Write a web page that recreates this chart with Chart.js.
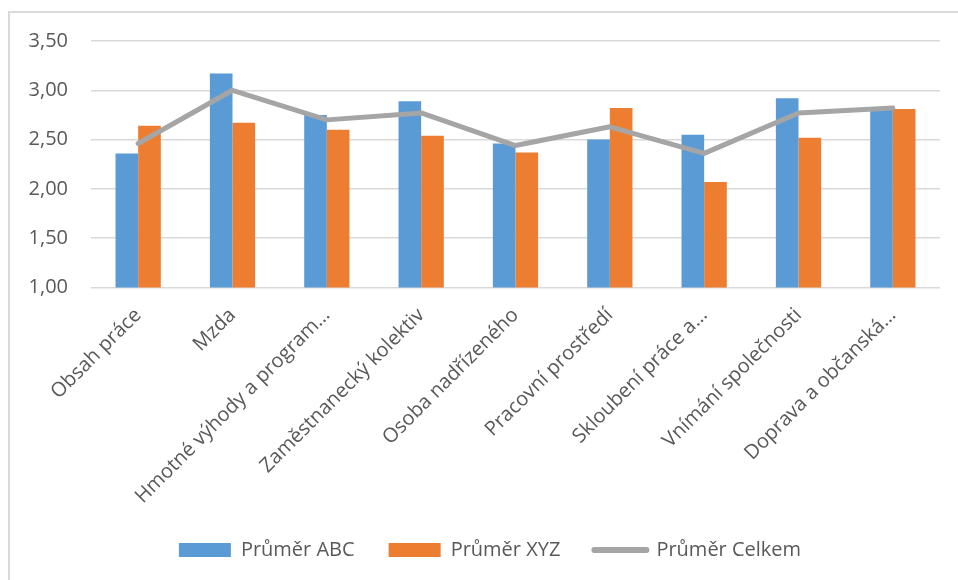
<!DOCTYPE html>
<html lang="cs">
<head>
<meta charset="utf-8">
<title>Průměr ABC, XYZ a Celkem</title>
<script src="https://cdn.jsdelivr.net/npm/chart.js@4.4.1/dist/chart.umd.min.js"></script>
<style>
  html, body { margin: 0; padding: 0; background: #ffffff; }
  #wrap { position: relative; width: 958px; height: 580px; overflow: hidden; }
  #frame {
    position: absolute; left: 8px; top: 11px; width: 980px; height: 600px;
    border-top: 2px solid #d9d9d9; border-left: 2px solid #d9d9d9;
  }
  #chart { position: absolute; left: 0; top: 0; }
</style>
</head>
<body>
<div id="wrap">
  <div id="frame"></div>
  <canvas id="chart" width="958" height="580"></canvas>
</div>
<script>
// Categories (long names are shortened with an ellipsis on the axis)
const categories = [
  'Obsah práce',
  'Mzda',
  'Hmotné výhody a program…',
  'Zaměstnanecký kolektiv',
  'Osoba nadřízeného',
  'Pracovní prostředí',
  'Skloubení práce a…',
  'Vnímání společnosti',
  'Doprava a občanská…'
];

// Average scores per category
const prumerABC    = [2.36, 3.17, 2.75, 2.89, 2.46, 2.50, 2.55, 2.92, 2.81];
const prumerXYZ    = [2.64, 2.67, 2.60, 2.54, 2.37, 2.82, 2.07, 2.52, 2.81];
const prumerCelkem = [2.46, 3.00, 2.70, 2.77, 2.44, 2.63, 2.36, 2.77, 2.82];

// Value axis range
const yMin = 1.0;
const yMax = 3.5;
const yStep = 0.5;

const FONT = '"Open Sans", "Noto Sans", sans-serif';
const TEXT = '#595959';
const GRID = '#d9d9d9';

// Centre the legend under the plot rather than the whole canvas
const legendShift = {
  id: 'legendShift',
  afterLayout(chart) {
    if (chart.legend) {
      chart.legend.left = 40;
    }
  }
};

const ctx = document.getElementById('chart').getContext('2d');

new Chart(ctx, {
  data: {
    labels: categories,
    datasets: [
      {
        type: 'bar',
        label: 'Průměr ABC',
        data: prumerABC,
        backgroundColor: '#5b9bd5',
        borderWidth: 0,
        categoryPercentage: 0.48,
        barPercentage: 1.0,
        order: 1
      },
      {
        type: 'bar',
        label: 'Průměr XYZ',
        data: prumerXYZ,
        backgroundColor: '#ed7d31',
        borderWidth: 0,
        categoryPercentage: 0.48,
        barPercentage: 1.0,
        order: 1
      },
      {
        type: 'line',
        label: 'Průměr Celkem',
        data: prumerCelkem,
        borderColor: '#a5a5a5',
        backgroundColor: '#a5a5a5',
        borderWidth: 5,
        borderCapStyle: 'round',
        borderJoinStyle: 'round',
        pointRadius: 0,
        pointHoverRadius: 0,
        tension: 0,
        fill: false,
        order: 0
      }
    ]
  },
  plugins: [legendShift],
  options: {
    responsive: false,
    devicePixelRatio: 1,
    animation: false,
    layout: {
      padding: { left: 0, right: 18, top: 41, bottom: 10 }
    },
    plugins: {
      tooltip: { enabled: false },
      legend: {
        position: 'bottom',
        labels: {
          usePointStyle: true,
          pointStyleWidth: 52,
          boxHeight: 14,
          padding: 34,
          color: TEXT,
          font: { family: FONT, size: 20 },
          sort: (a, b) => a.datasetIndex - b.datasetIndex,
          generateLabels: (chart) => {
            const items = Chart.defaults.plugins.legend.labels.generateLabels(chart);
            items.forEach((it) => {
              const ds = chart.data.datasets[it.datasetIndex];
              if (ds.type === 'line') {
                it.pointStyle = 'line';
                it.strokeStyle = ds.borderColor;
                it.lineWidth = 6;
                it.lineCap = 'round';
              } else {
                it.pointStyle = 'rect';
                it.fillStyle = ds.backgroundColor;
                it.strokeStyle = ds.backgroundColor;
                it.lineWidth = 0;
              }
            });
            return items;
          }
        }
      }
    },
    scales: {
      x: {
        grid: { display: false, drawTicks: false },
        border: { display: false },
        ticks: {
          autoSkip: false,
          minRotation: 45,
          maxRotation: 45,
          padding: 16,
          color: TEXT,
          font: { family: FONT, size: 20 }
        },
        afterFit: (scale) => { scale.height = 218.5; }
      },
      y: {
        min: yMin,
        max: yMax,
        grid: { color: GRID, lineWidth: 1.5, drawTicks: false },
        border: { display: false },
        ticks: {
          stepSize: yStep,
          padding: 23,
          color: TEXT,
          font: { family: FONT, size: 20 },
          callback: (v) => v.toFixed(2).replace('.', ',')
        },
        afterFit: (scale) => { scale.width = 91; }
      }
    }
  }
});
</script>
</body>
</html>
